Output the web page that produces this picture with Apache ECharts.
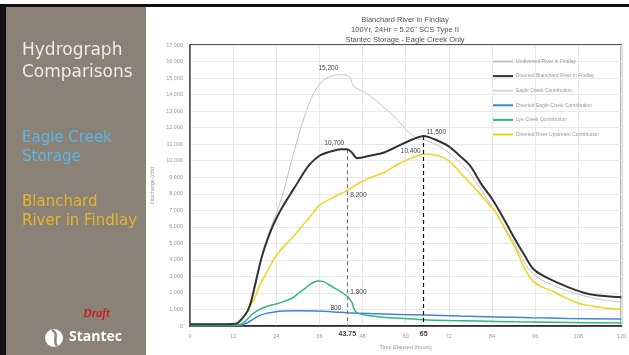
<!DOCTYPE html>
<html>
<head>
<meta charset="utf-8">
<script src="https://cdn.jsdelivr.net/npm/echarts@6/dist/echarts.min.js"></script>
<style>
  html, body { margin: 0; padding: 0; background: #fff; }
  #chart { width: 629px; height: 355px; }
</style>
</head>
<body>
<div id="chart"></div>
<script>
// hours / cfs
var undivertedT = [0, 12, 13.5, 15, 16.5, 18, 20, 22, 24, 26, 28, 31, 34, 36.5, 39, 41, 43, 44.5, 45.5, 49, 54.6, 58, 60, 63, 66, 70, 74, 78, 82, 86, 90, 94, 97, 100, 106, 113, 120]
var undivertedQ = [100, 120, 220, 550, 1100, 2200, 4300, 5700, 6800, 8100, 9800, 12100, 13900, 14750, 15100, 15200, 15200, 15050, 14500, 14100, 13100, 12400, 11900, 11350, 11200, 10800, 10100, 9200, 7900, 6500, 5100, 3500, 2900, 2550, 2050, 1650, 1450]

var divertedT = [0, 12, 13.3, 14.5, 16, 17, 18, 20, 22, 24, 26, 28, 30, 33, 36, 39, 42, 43.75, 45, 46.5, 50, 54, 58, 62, 65, 68, 72, 75, 78, 81, 84, 87, 90, 93, 95.5, 99, 103, 106, 110, 113, 117, 120]
var divertedQ = [100, 120, 180, 450, 900, 1500, 2400, 4200, 5500, 6500, 7300, 8000, 8700, 9700, 10300, 10550, 10700, 10700, 10500, 10150, 10300, 10500, 10900, 11300, 11500, 11300, 10870, 10300, 9670, 8600, 7700, 6600, 5400, 4300, 3450, 2950, 2550, 2280, 1980, 1860, 1780, 1740]

var eagleT = []
var eagleQ = []

var eagleDivT = [0, 12, 14, 16, 17.5, 19, 21, 23.5, 26, 30, 35, 40, 43.75, 50, 58, 65, 75, 85, 95, 105, 120]
var eagleDivQ = [20, 30, 50, 200, 400, 600, 750, 850, 900, 920, 900, 850, 800, 750, 700, 660, 600, 550, 500, 460, 420]

var lyeT = [0, 12, 14, 15.5, 17, 19, 21.5, 25, 28.3, 30, 32, 34, 35.5, 37, 39, 41, 43.75, 45, 45.8, 47, 49, 53, 57.5, 65, 72, 80, 90, 100, 110, 120]
var lyeQ = [30, 40, 100, 300, 650, 960, 1200, 1400, 1680, 1950, 2280, 2600, 2720, 2700, 2450, 2200, 1800, 1450, 950, 750, 650, 550, 480, 380, 330, 300, 260, 230, 200, 180]

var upstreamT = [0, 12, 13.5, 15, 16.5, 18, 19.5, 21, 23.5, 26, 28.5, 31, 33, 36, 40, 43.75, 47, 50, 54, 58, 62, 65, 68, 70.5, 73, 76, 79, 82, 85, 88, 91, 93, 95.5, 98, 101, 104, 108, 112, 116, 120]
var upstreamQ = [100, 120, 250, 600, 1100, 1700, 2500, 3100, 4100, 4800, 5350, 6000, 6500, 7300, 7800, 8200, 8650, 8950, 9300, 9800, 10200, 10400, 10350, 10200, 9800, 9070, 8400, 7650, 6900, 5700, 4500, 3500, 2700, 2350, 2100, 1750, 1380, 1200, 1080, 1020]

var seriesNames = [
  'Undiverted River in Findlay',
  'Diverted Blanchard River in Findlay',
  'Eagle Creek Contribution',
  'Diverted Eagle Creek Contribution',
  'Lye Creek Contribution',
  'Diverted River Upstream Contribution'
]

function pairs(t, q) {
  return t.map(function(v, i) { return [v, q[i]] })
}
function fmt(v) {
  return v.toLocaleString('en-US')
}

var labelStyle = { fontSize: 6.5, color: '#444', fontFamily: 'Liberation Sans' }
function peak(coord, pos, offset) {
  return {
    coord: coord,
    value: fmt(coord[1]),
    symbol: 'circle',
    symbolSize: 0,
    label: Object.assign({ show: true, position: pos, offset: offset, distance: 3, formatter: '{c}' }, labelStyle)
  }
}

var chart = echarts.init(document.getElementById('chart'))
chart.setOption({
  animation: false,
  backgroundColor: '#fff',
  title: {
    text: 'Blanchard River in Findlay\n100Yr, 24Hr = 5.26" SCS Type II\nStantec Storage - Eagle Creek Only',
    left: 400,
    top: 10,
    textAlign: 'center',
    textStyle: { fontSize: 7.5, lineHeight: 10, fontWeight: 'normal', color: '#555', fontFamily: 'Liberation Sans' }
  },
  legend: {
    orient: 'vertical',
    left: 488,
    top: 53,
    itemWidth: 20,
    itemHeight: 2,
    itemGap: 7.6,
    icon: 'rect',
    textStyle: { fontSize: 5, lineHeight: 7, color: '#999', padding: [0, 0, 0, -2], fontFamily: 'Liberation Sans' },
    data: seriesNames
  },
  grid: {
    left: 190, right: 7, top: 45, bottom: 27,
    show: true, borderColor: '#222', borderWidth: 1.5
  },
  xAxis: {
    type: 'value',
    min: 0, max: 120, interval: 12,
    name: 'Time Elapsed (hours)',
    nameLocation: 'middle',
    nameGap: 18,
    nameTextStyle: { fontSize: 5.5, color: '#999' },
    axisLine: { lineStyle: { color: '#222', width: 1.5 } },
    axisTick: { show: false },
    axisLabel: { fontSize: 5.5, color: '#999', margin: 7, fontFamily: 'Liberation Sans' },
    splitLine: { show: true, lineStyle: { color: '#e8e8e8', width: 1 } }
  },
  yAxis: {
    type: 'value',
    min: 0, max: 17000, interval: 1000,
    name: 'Discharge (cfs)',
    nameLocation: 'middle',
    nameGap: 30,
    nameRotate: 90,
    nameTextStyle: { fontSize: 5.5, color: '#999' },
    axisLine: { show: true, lineStyle: { color: '#555', width: 1.5 } },
    axisTick: { show: false },
    axisLabel: { fontSize: 5.5, color: '#999', margin: 7, formatter: function(v) { return fmt(v) }, fontFamily: 'Liberation Sans' },
    splitLine: { show: true, lineStyle: { color: '#e8e8e8', width: 1 } }
  },
  series: [
    {
      name: seriesNames[0], type: 'line', data: pairs(undivertedT, undivertedQ),
      showSymbol: false, smooth: 0.3, z: 2,
      itemStyle: { color: '#c4c4c4' },
      lineStyle: { color: '#c4c4c4', width: 1 },
      markPoint: { data: [peak([38.5, 15200], 'top', [0, 0])] }
    },
    {
      name: seriesNames[1], type: 'line', data: pairs(divertedT, divertedQ),
      showSymbol: false, smooth: 0.3, z: 5,
      itemStyle: { color: '#333' },
      lineStyle: { color: '#333', width: 2 },
      markPoint: { data: [peak([43.75, 10700], 'top', [-13, 1]), peak([65, 11500], 'right', [0, -4])] },
      markLine: {
        symbol: 'none',
        silent: true,
        data: [
          [{ coord: [43.75, 10700], lineStyle: { color: '#777', type: [4, 3], width: 1.2 } }, { coord: [43.75, 0] }],
          [{ coord: [65, 11500], lineStyle: { color: '#111', type: [4, 3], width: 1.2 } }, { coord: [65, 0] }]
        ],
        label: {
          show: true, position: 'end', distance: 5,
          formatter: function(p) { return String(p.data.coord[0]) },
          fontSize: 7, fontWeight: 'bold', color: '#444', fontFamily: 'Liberation Sans'
        }
      }
    },
    {
      name: seriesNames[2], type: 'line', data: pairs(eagleT, eagleQ),
      showSymbol: false, itemStyle: { color: '#d6d6d6' },
      lineStyle: { color: '#d6d6d6', width: 1 }
    },
    {
      name: seriesNames[3], type: 'line', data: pairs(eagleDivT, eagleDivQ),
      showSymbol: false, smooth: 0.3, z: 3,
      itemStyle: { color: '#3d85d8' },
      lineStyle: { color: '#3d85d8', width: 1.5 },
      markPoint: { data: [peak([43.75, 800], 'left', [-3, -5])] }
    },
    {
      name: seriesNames[4], type: 'line', data: pairs(lyeT, lyeQ),
      showSymbol: false, smooth: 0.3, z: 3,
      itemStyle: { color: '#2db87e' },
      lineStyle: { color: '#2db87e', width: 1.5 },
      markPoint: { data: [peak([43.75, 1800], 'right', [0, -4])] }
    },
    {
      name: seriesNames[5], type: 'line', data: pairs(upstreamT, upstreamQ),
      showSymbol: false, smooth: 0.3, z: 4,
      itemStyle: { color: '#f0d21c' },
      lineStyle: { color: '#f0d21c', width: 1.5 },
      markPoint: { data: [peak([43.75, 8200], 'right', [0, 5]), peak([65, 10400], 'left', [0, -3])] }
    }
  ],
  graphic: [
    { type: 'rect', shape: { x: 0, y: 4, width: 629, height: 3 }, style: { fill: '#111' } },
    { type: 'rect', shape: { x: 0, y: 4, width: 6, height: 351 }, style: { fill: '#111' } },
    { type: 'rect', shape: { x: 6, y: 7, width: 140, height: 348 }, style: { fill: '#8a8277' } },
    { type: 'text', x: 22, y: 40, style: { text: 'Hydrograph\nComparisons', fill: '#ececec', font: '17px "DejaVu Sans"', lineHeight: 22 } },
    { type: 'text', x: 22, y: 129, style: { text: 'Eagle Creek\nStorage', fill: '#5ab4e4', font: '15px "DejaVu Sans"', lineHeight: 19 } },
    { type: 'text', x: 22, y: 193, style: { text: 'Blanchard\nRiver in Findlay', fill: '#e3b52a', font: '15px "DejaVu Sans"', lineHeight: 19 } },
    { type: 'text', x: 83, y: 308, style: { text: 'Draft', fill: '#cc1f1f', font: 'italic bold 12px "Liberation Serif"' } },
    { type: 'circle', shape: { cx: 54, cy: 338, r: 9 }, style: { fill: '#fff' } },
    { type: 'bezierCurve', shape: { x1: 52, y1: 330, cpx1: 60, cpy1: 334, cpx2: 52, cpy2: 340, x2: 57, y2: 346 }, style: { stroke: '#8a8277', lineWidth: 2.5, fill: 'none' } },
    { type: 'text', x: 69, y: 330, style: { text: 'Stantec', fill: '#fff', font: 'bold 14px "Open Sans"' } }
  ]
})
</script>
</body>
</html>
